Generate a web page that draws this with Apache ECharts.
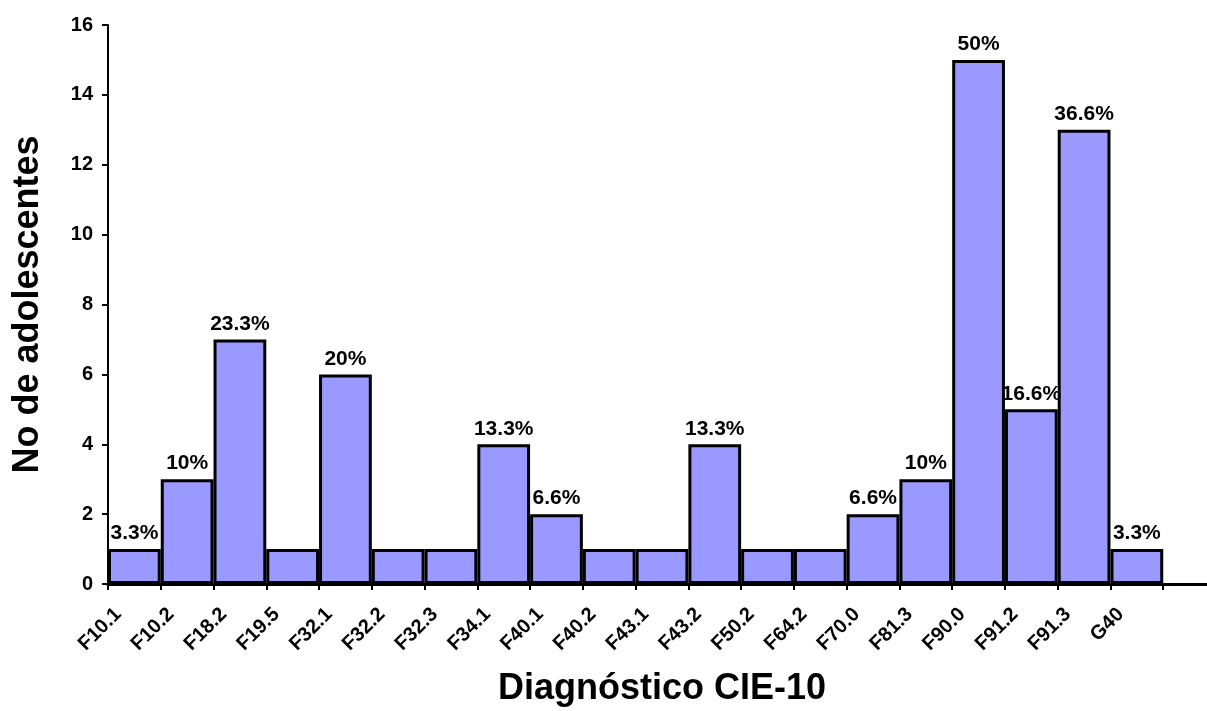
<!DOCTYPE html>
<html>
<head>
<meta charset="utf-8">
<script src="https://cdn.jsdelivr.net/npm/echarts@6/dist/echarts.min.js"></script>
<style>
  html, body { margin: 0; padding: 0; background: #fff; }
  #chart { width: 1207px; height: 711px; }
</style>
</head>
<body>
<div id="chart"></div>
<script>
// diagnósticos CIE-10
var categories = ['F10.1', 'F10.2', 'F18.2', 'F19.5', 'F32.1', 'F32.2', 'F32.3', 'F34.1', 'F40.1', 'F40.2',
    'F43.1', 'F43.2', 'F50.2', 'F64.2', 'F70.0', 'F81.3', 'F90.0', 'F91.2', 'F91.3', 'G40'];
var counts = [1, 3, 7, 1, 6, 1, 1, 4, 2, 1, 1, 4, 1, 1, 2, 3, 15, 5, 13, 1];
var percentLabels = ['3.3%', '10%', '23.3%', '', '20%', '', '', '13.3%', '6.6%', '', '',
    '13.3%', '', '', '6.6%', '10%', '50%', '16.6%', '36.6%', '3.3%'];
var yTicks = [0, 2, 4, 6, 8, 10, 12, 14, 16];

var font = 'Liberation Sans, Arial, sans-serif';
var chart = echarts.init(document.getElementById('chart'));

// one empty slot after G40, like the original axis
var bandCats = categories.concat(['']);

chart.setOption({
    animation: false,
    grid: { left: 108, top: 25, width: 1108, height: 559, outerBoundsMode: 'none', containLabel: false },
    xAxis: {
        type: 'category',
        data: bandCats,
        boundaryGap: true,
        axisLine: { lineStyle: { color: '#000', width: 3 } },
        axisTick: { show: true, interval: 0, length: 6, lineStyle: { color: '#000', width: 2 } },
        // labels sit at the left edge of each bar, so push them back along the slant
        axisLabel: {
            interval: 0,
            rotate: 45,
            margin: 11,
            padding: [0, 23, 0, 0],
            fontFamily: font,
            fontWeight: 'bold',
            fontSize: 20,
            color: '#000'
        },
        name: 'Diagnóstico CIE-10',
        nameLocation: 'middle',
        nameGap: 87,
        nameTextStyle: { fontFamily: font, fontWeight: 'bold', fontSize: 36, color: '#000' }
    },
    yAxis: {
        type: 'value',
        min: yTicks[0],
        max: yTicks[yTicks.length - 1],
        interval: 2,
        splitLine: { show: false },
        axisLine: { show: true, lineStyle: { color: '#000', width: 2 } },
        axisTick: { show: true, length: 6, lineStyle: { color: '#000', width: 2 } },
        axisLabel: { margin: 15, fontFamily: font, fontWeight: 'bold', fontSize: 20, color: '#000' },
        name: 'No de adolescentes',
        nameLocation: 'middle',
        nameGap: 62,
        nameTextStyle: { fontFamily: font, fontWeight: 'bold', fontSize: 36, color: '#000' }
    },
    series: [{
        type: 'bar',
        data: counts,
        barWidth: '100%',
        barCategoryGap: 0,
        itemStyle: { color: '#9999ff', borderColor: '#000', borderWidth: 3 },
        label: {
            show: true,
            position: 'top',
            distance: 5,
            fontFamily: font,
            fontWeight: 'bold',
            fontSize: 21,
            color: '#000',
            formatter: function (p) { return percentLabels[p.dataIndex]; }
        }
    }]
});
</script>
</body>
</html>
